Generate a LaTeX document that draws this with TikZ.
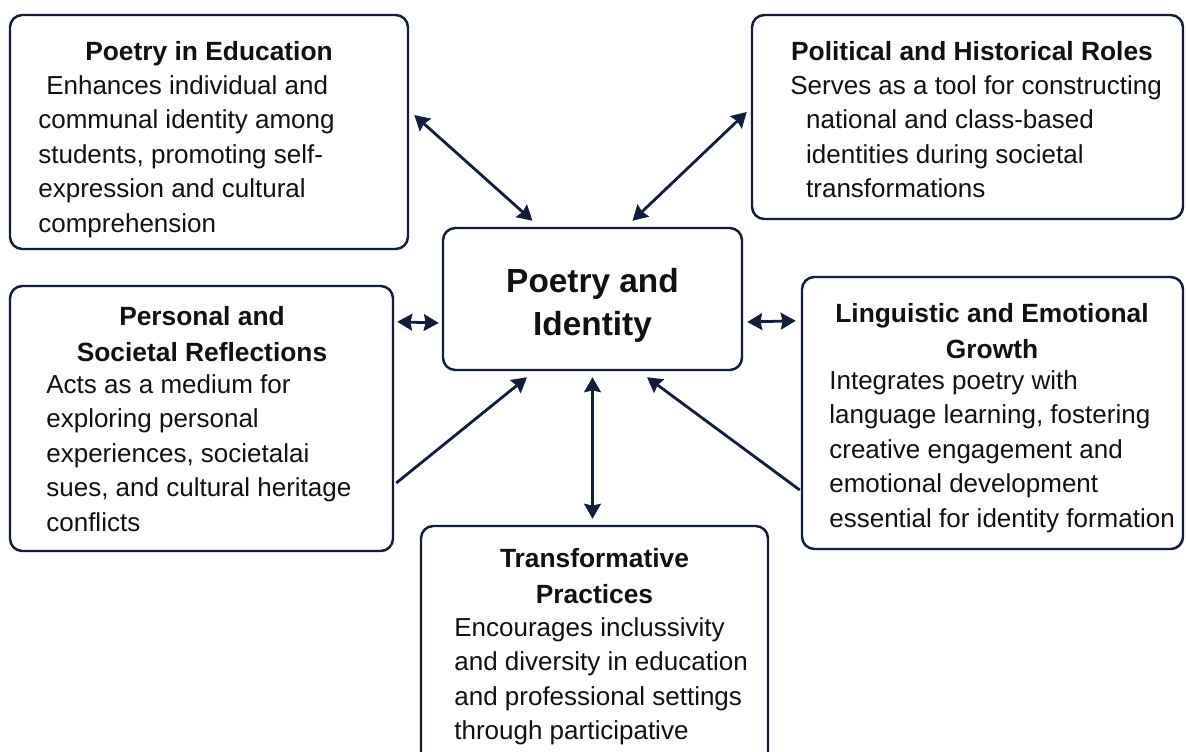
\documentclass[tikz,border=0pt]{standalone}
\usepackage{fontspec}
\setmainfont{Liberation Sans}
\usetikzlibrary{calc,arrows.meta,fit}

\definecolor{navy}{RGB}{16,30,58}
\definecolor{ink}{RGB}{17,17,17}
\tikzset{
  box/.style={draw=navy, line width=1.4pt, rounded corners=7pt, inner sep=0pt},
  head/.style={anchor=north, align=center, inner sep=0pt, text=ink, font=\fontsize{15}{20.4}\selectfont\bfseries},
  body/.style={anchor=north west, align=left, inner sep=0pt, text=ink, font=\fontsize{14.8}{19.6}\selectfont},
  tip/.tip={Stealth[length=8.5pt, width=9.5pt, inset=1pt]},
  link/.style={draw=navy, line width=1.6pt, tip-tip},
  push/.style={draw=navy, line width=1.6pt, -tip},
}

\begin{document}
\begin{tikzpicture}[x=0.02cm, y=-0.02cm]
    \useasboundingbox (0,0) rectangle (1186,751);
    \fill[white] (0,0) rectangle (1186,751);
    \clip (0,0) rectangle (1186,751);

    % core
    \node[box, fit={(443,228)(742,370)}](core){};
    \node[head, font=\fontsize{19}{24.4}\selectfont\bfseries](coreT)at(592.5,262){\strut Poetry and\\Identity};

    % poetry in education
    \node[box, fit={(10,15)(408,249)}](edu){};
    \node[head](eduT)at(209,35){\strut Poetry in Education};
    \node[body](eduB)at(38,70){\strut\hspace*{4.5pt}Enhances individual and\\communal identity among\\students, promoting self-\\expression and cultural\\comprehension};

    % political and historical roles
    \node[box, fit={(752,15)(1183,219)}](pol){};
    \node[head](polT)at(972,35){\strut Political and Historical Roles};
    \node[body](polB)at(790,70){\strut Serves as a tool for constructing\\\hspace*{9pt}national and class-based\\\hspace*{9pt}identities during societal\\\hspace*{9pt}transformations};

    % personal and societal reflections
    \node[box, fit={(10,286)(393,551)}](pers){};
    \node[head](persT)at(202,300){\strut Personal and\\Societal Reflections};
    \node[body](persB)at(46,369){\strut Acts as a medium for\\exploring personal\\experiences, societalai\\sues, and cultural heritage\\conflicts};

    % linguistic and emotional growth
    \node[box, fit={(802,277)(1183,549)}](ling){};
    \node[head](lingT)at(992,297){\strut Linguistic and Emotional\\Growth};
    \node[body](lingB)at(829,365){\strut Integrates poetry with\\language learning, fostering\\creative engagement and\\emotional development\\essential for identity formation};

    % transformative practices
    \node[box, fit={(421,526)(768,800)}](trans){};
    \node[head](transT)at(594.5,542){\strut Transformative\\Practices};
    \node[body](transB)at(454,612){\strut Encourages inclussivity\\and diversity in education\\and professional settings\\through participative};

    % arrows
    \path[link]($(edu.east)+(5,-17)$)to($(core.north)+(-60,-6)$);
    \path[link]($(pol.west)+(-4,-5)$)to($(core.north)+(40,-6)$);
    \path[link]($(pers.north east)+(3,37)$)to($(core.west)+(-3,24)$);
    \path[link]($(core.east)+(4,23)$)to($(ling.north west)+(-5,45)$);
    \path[link]($(core.south)+(0,6)$)to($(core.south |- trans.north)+(0,-6)$);
    \path[push]($(pers.east)+(2,64.5)$)to($(core.south)+(-65.5,6)$);
    \path[push]($(ling.west)+(-1,77)$)to($(core.south)+(54.5,6)$);
\end{tikzpicture}
\end{document}
